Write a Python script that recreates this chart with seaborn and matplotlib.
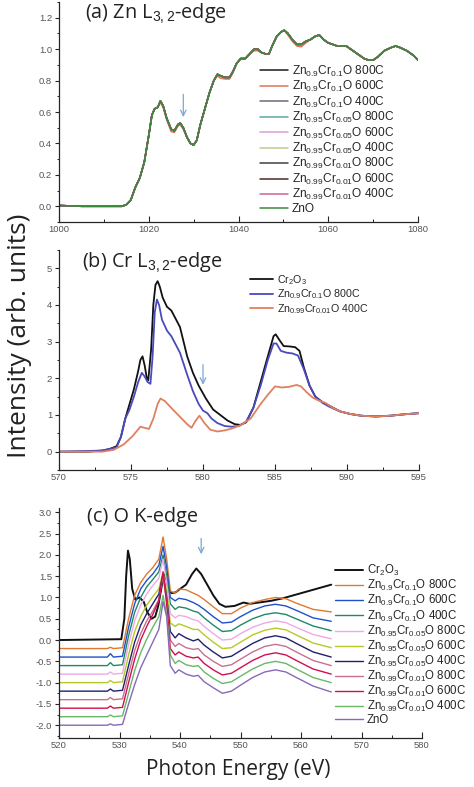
import matplotlib
matplotlib.use('Agg')
import matplotlib.pyplot as plt
from matplotlib.ticker import MultipleLocator
import seaborn as sns

# (a) Zn L3,2-edge
a_energy = [1000, 1005, 1010, 1014, 1015, 1016, 1017, 1018, 1019, 1020,
            1020.7, 1021.3, 1022, 1022.6, 1023.2, 1024, 1025, 1025.7, 1026.5, 1027,
            1027.7, 1028.5, 1029.3, 1030, 1030.7, 1031.5, 1032.5, 1033.5, 1034.5, 1035.3,
            1036, 1037, 1038, 1038.8, 1039.6, 1040.5, 1041.5, 1042.5, 1043.5, 1044.3,
            1045, 1046, 1046.8, 1047.5, 1048.5, 1049.5, 1050.2, 1051, 1052, 1053,
            1054, 1055, 1056, 1057, 1058, 1059, 1060, 1062, 1064, 1066,
            1068, 1069, 1070, 1071, 1072.5, 1074, 1075, 1076, 1077.5, 1079, 1080]
a_zno = [0.005, 0.0, 0.0, 0.0, 0.01, 0.04, 0.12, 0.18, 0.28, 0.45,
         0.58, 0.62, 0.63, 0.67, 0.64, 0.56, 0.49, 0.48, 0.52, 0.53,
         0.50, 0.44, 0.40, 0.39, 0.42, 0.52, 0.62, 0.72, 0.80, 0.84,
         0.83, 0.82, 0.82, 0.86, 0.91, 0.94, 0.94, 0.97, 1.00, 1.00,
         0.98, 0.97, 0.97, 1.02, 1.08, 1.11, 1.12, 1.10, 1.06, 1.03,
         1.03, 1.05, 1.06, 1.08, 1.09, 1.06, 1.04, 1.02, 1.02, 0.98,
         0.94, 0.93, 0.93, 0.95, 0.99, 1.01, 1.02, 1.01, 0.99, 0.96, 0.93]
a_red = [0.005, 0.0, 0.0, 0.0, 0.01, 0.04, 0.12, 0.18, 0.28, 0.45,
         0.58, 0.62, 0.63, 0.66, 0.63, 0.55, 0.475, 0.47, 0.51, 0.52,
         0.49, 0.44, 0.40, 0.39, 0.42, 0.52, 0.62, 0.72, 0.80, 0.83,
         0.815, 0.81, 0.81, 0.85, 0.91, 0.94, 0.94, 0.97, 0.99, 0.99,
         0.98, 0.97, 0.97, 1.02, 1.08, 1.11, 1.12, 1.09, 1.05, 1.02,
         1.015, 1.04, 1.06, 1.08, 1.09, 1.06, 1.04, 1.02, 1.02, 0.98,
         0.94, 0.93, 0.93, 0.95, 0.99, 1.01, 1.02, 1.01, 0.99, 0.96, 0.93]
a_labels = [r'Zn$_{0.9}$Cr$_{0.1}$O 800C', r'Zn$_{0.9}$Cr$_{0.1}$O 600C', r'Zn$_{0.9}$Cr$_{0.1}$O 400C',
            r'Zn$_{0.95}$Cr$_{0.05}$O 800C', r'Zn$_{0.95}$Cr$_{0.05}$O 600C', r'Zn$_{0.95}$Cr$_{0.05}$O 400C',
            r'Zn$_{0.99}$Cr$_{0.01}$O 800C', r'Zn$_{0.99}$Cr$_{0.01}$O 600C', r'Zn$_{0.99}$Cr$_{0.01}$O 400C',
            'ZnO']
a_values = [a_zno, a_red, a_zno, a_zno, a_zno, a_zno, a_zno, a_zno, a_zno, a_zno]
a_colors = ['#1a1a1a', '#e0735a', '#6b6b7b', '#5aaaa0', '#d8a0d8',
            '#c8c890', '#404040', '#502828', '#d060a0', '#3a8a3a']

# (b) Cr L3,2-edge
b_cr2o3_e = [570, 572, 573, 573.5, 574, 574.3, 574.6, 574.9, 575.2, 575.5,
             575.65, 575.8, 575.95, 576.1, 576.2, 576.4, 576.55, 576.7, 576.85, 577.0,
             577.2, 577.5, 577.8, 578.4, 578.9, 579.3, 579.7, 580.2, 580.7, 581.2,
             581.7, 582.2, 582.6, 583, 583.5, 584, 584.5, 584.9, 585.05, 585.3,
             585.6, 586, 586.4, 586.7, 587, 587.4, 587.8, 588.3, 588.8, 589.5,
             590.2, 591, 592, 593, 594, 595]
b_cr2o3_i = [0, 0, 0.03, 0.07, 0.15, 0.4, 0.9, 1.3, 1.7, 2.2,
             2.5, 2.6, 2.35, 2.0, 1.95, 2.8, 4.0, 4.55, 4.65, 4.5,
             4.2, 3.95, 3.85, 3.4, 2.6, 2.15, 1.8, 1.45, 1.15, 1.0,
             0.85, 0.75, 0.73, 0.8, 1.2, 1.9, 2.6, 3.15, 3.2, 3.05,
             2.88, 2.87, 2.85, 2.75, 2.3, 1.8, 1.5, 1.35, 1.25, 1.1,
             1.03, 0.98, 0.96, 0.98, 1.02, 1.05]
b_zn90_e = [570, 573, 574, 574.3, 574.6, 574.9, 575.2, 575.5, 575.75, 575.95,
            576.15, 576.35, 576.5, 576.65, 576.8, 576.95, 577.15, 577.5, 577.8, 578.4,
            578.9, 579.3, 579.7, 580.0, 580.3, 580.6, 581, 581.5, 582, 582.5,
            583, 583.5, 584, 584.5, 584.9, 585.1, 585.4, 585.8, 586.2, 586.6,
            587, 587.4, 587.8, 588.3, 588.8, 589.5, 590.2, 591, 592, 593, 594, 595]
b_zn90_i = [0, 0.03, 0.12, 0.4, 0.9, 1.15, 1.5, 1.9, 2.15, 2.05,
            1.9, 1.85, 2.6, 3.8, 4.15, 4.0, 3.6, 3.3, 3.15, 2.7,
            2.1, 1.65, 1.3, 1.12, 1.05, 0.9, 0.78, 0.7, 0.68, 0.7,
            0.82, 1.2, 1.8, 2.5, 2.95, 2.95, 2.75, 2.7, 2.68, 2.62,
            2.25, 1.8, 1.5, 1.33, 1.22, 1.1, 1.03, 0.98, 0.96, 0.98, 1.02, 1.05]
b_zn99_e = [570, 573, 573.8, 574.5, 575.1, 575.65, 575.95, 576.25, 576.55, 576.85,
            577.05, 577.35, 577.9, 578.4, 578.9, 579.2, 579.5, 579.75, 580.1, 580.5,
            581, 581.5, 582, 582.6, 583.3, 584, 584.5, 585, 585.5, 586,
            586.5, 586.8, 587.2, 587.6, 588, 588.5, 589, 589.5, 590.2, 591,
            592, 593, 594, 595]
b_zn99_i = [0, 0, 0.05, 0.2, 0.42, 0.68, 0.65, 0.62, 0.9, 1.3,
            1.45, 1.38, 1.15, 0.95, 0.75, 0.65, 0.85, 0.98, 0.78, 0.6,
            0.55, 0.58, 0.63, 0.72, 0.9, 1.3, 1.55, 1.78, 1.75, 1.77,
            1.82, 1.78, 1.62, 1.48, 1.4, 1.33, 1.2, 1.1, 1.03, 0.98,
            0.96, 0.98, 1.02, 1.05]
b_labels = [r'Cr$_2$O$_3$', r'Zn$_{0.9}$Cr$_{0.1}$O 800C', r'Zn$_{0.99}$Cr$_{0.01}$O 400C']
b_colors = ['#111111', '#4a4ac0', '#e08060']

# (c) O K-edge
c_cr2o3_e = [520, 530.3, 530.8, 531.1, 531.4, 531.7, 532.1, 532.6, 533.3, 534,
             534.6, 535.3, 535.9, 536.4, 536.9, 537.3, 537.7, 538.1, 538.6, 539.3,
             540, 541, 542, 542.7, 543.5, 544.5, 545.5, 546.5, 547.5, 549,
             550.5, 551.5, 553, 555, 557, 565]
c_cr2o3_i = [0, 0.02, 0.5, 1.5, 2.1, 1.9, 1.2, 0.95, 1.0, 0.9,
             0.65, 0.5, 0.55, 0.8, 1.2, 1.55, 1.45, 1.2, 1.1, 1.12,
             1.2, 1.3, 1.55, 1.68, 1.55, 1.3, 1.05, 0.85, 0.78, 0.8,
             0.88, 0.85, 0.88, 0.92, 0.98, 1.3]
c_energy = [520, 528, 528.5, 529, 530.5, 531.5, 532.5, 533.5, 534.5, 535.5,
            536.5, 537.2, 537.8, 538.4, 539.2, 539.8, 541, 542.2, 543, 544,
            545.5, 547, 548.5, 550, 552, 554, 555.8, 557.5, 559.5, 562, 565]
c_zn90_800 = [-0.2, -0.2, -0.17, -0.2, -0.18, 0.5, 1.05, 1.35, 1.55, 1.7,
              1.9, 2.42, 1.9, 1.15, 1.1, 1.2, 1.18, 1.1, 1.05, 0.95,
              0.78, 0.62, 0.62, 0.75, 0.88, 0.95, 1.0, 0.97, 0.85, 0.72, 0.66]
c_zn90_600 = [-0.4, -0.4, -0.32, -0.4, -0.38, 0.3, 0.85, 1.2, 1.4, 1.55,
              1.75, 2.2, 1.7, 1.0, 0.92, 0.98, 0.95, 0.88, 0.82, 0.72,
              0.55, 0.4, 0.42, 0.55, 0.7, 0.8, 0.84, 0.8, 0.68, 0.52, 0.44]
c_zn90_400 = [-0.6, -0.6, -0.53, -0.6, -0.58, 0.1, 0.65, 1.0, 1.25, 1.42,
              1.6, 2.0, 1.5, 0.85, 0.72, 0.78, 0.75, 0.68, 0.65, 0.52,
              0.35, 0.2, 0.22, 0.35, 0.5, 0.6, 0.64, 0.6, 0.48, 0.33, 0.22]
c_zn95_800 = [-0.8, -0.8, -0.75, -0.8, -0.78, -0.1, 0.45, 0.82, 1.08, 1.28,
              1.45, 1.9, 1.35, 0.62, 0.52, 0.58, 0.55, 0.48, 0.45, 0.32,
              0.15, 0.0, 0.02, 0.15, 0.3, 0.4, 0.45, 0.41, 0.28, 0.13, 0.03]
c_zn95_600 = [-1.0, -1.0, -0.95, -1.0, -0.98, -0.35, 0.2, 0.55, 0.82, 1.02,
              1.2, 1.6, 1.15, 0.4, 0.32, 0.38, 0.32, 0.25, 0.25, 0.12,
              -0.05, -0.2, -0.18, -0.05, 0.12, 0.23, 0.28, 0.24, 0.1, -0.07, -0.18]
c_zn95_400 = [-1.2, -1.2, -1.15, -1.2, -1.18, -0.6, -0.05, 0.35, 0.62, 0.85,
              1.08, 1.55, 1.0, 0.2, 0.05, 0.15, 0.05, -0.02, 0.02, -0.12,
              -0.28, -0.42, -0.38, -0.25, -0.08, 0.05, 0.1, 0.05, -0.1, -0.28, -0.4]
c_zn99_800 = [-1.4, -1.4, -1.35, -1.4, -1.38, -0.8, -0.25, 0.15, 0.45, 0.68,
              0.95, 1.5, 0.9, 0.0, -0.15, -0.08, -0.18, -0.22, -0.2, -0.35,
              -0.5, -0.62, -0.58, -0.45, -0.28, -0.15, -0.1, -0.15, -0.3, -0.48, -0.6]
c_zn99_600 = [-1.6, -1.6, -1.55, -1.6, -1.58, -1.0, -0.45, 0.0, 0.32, 0.6,
              0.92, 1.6, 0.85, -0.2, -0.35, -0.28, -0.38, -0.42, -0.4, -0.55,
              -0.7, -0.82, -0.78, -0.65, -0.48, -0.35, -0.3, -0.35, -0.5, -0.68, -0.8]
c_zn99_400 = [-1.8, -1.8, -1.76, -1.8, -1.78, -1.25, -0.72, -0.3, 0.02, 0.3,
              0.55, 1.05, 0.6, -0.35, -0.55, -0.48, -0.58, -0.62, -0.6, -0.75,
              -0.9, -1.02, -0.98, -0.85, -0.68, -0.55, -0.5, -0.55, -0.7, -0.88, -1.0]
c_zno = [-2.0, -2.0, -1.97, -2.0, -1.98, -1.5, -1.05, -0.65, -0.35, -0.05,
         0.25, 0.9, 0.55, -0.6, -0.78, -0.7, -0.8, -0.85, -0.83, -0.98,
         -1.12, -1.25, -1.2, -1.06, -0.88, -0.75, -0.7, -0.75, -0.9, -1.08, -1.22]
c_values = [c_zn90_800, c_zn90_600, c_zn90_400, c_zn95_800, c_zn95_600,
            c_zn95_400, c_zn99_800, c_zn99_600, c_zn99_400, c_zno]
c_colors = ['#e07830', '#2050c8', '#208868', '#f0a8e8', '#b8c828',
            '#202070', '#c87090', '#d01050', '#68b868', '#8868b8']

sns.set_style('ticks')
plt.rcParams['font.family'] = ['Liberation Sans', 'DejaVu Sans']
plt.rcParams['mathtext.fontset'] = 'custom'
plt.rcParams['mathtext.rm'] = 'Liberation Sans'
plt.rcParams['mathtext.it'] = 'Liberation Sans'

fig = plt.figure(figsize=(4.74, 7.87), dpi=100)
W, H = 474, 787
ax_a = fig.add_axes([59 / W, 1 - 222 / H, 359 / W, 220 / H])
ax_b = fig.add_axes([59 / W, 1 - 470 / H, 360 / W, 220 / H])
ax_c = fig.add_axes([59 / W, 1 - 738 / H, 363 / W, 230 / H])


def style_axis(ax, xlim, ylim, xmaj, ymaj):
    ax.set_xlim(*xlim)
    ax.set_ylim(*ylim)
    ax.xaxis.set_major_locator(MultipleLocator(xmaj))
    ax.xaxis.set_minor_locator(MultipleLocator(xmaj / 2))
    ax.yaxis.set_major_locator(MultipleLocator(ymaj))
    ax.yaxis.set_minor_locator(MultipleLocator(ymaj / 2))
    ax.tick_params(axis='x', which='major', direction='in', length=4, width=0.8)
    ax.tick_params(axis='x', which='minor', direction='in', length=2.5, width=0.7)
    ax.tick_params(axis='y', which='major', direction='out', length=3, width=0.8)
    ax.tick_params(axis='y', which='minor', direction='out', length=1.8, width=0.7)
    ax.tick_params(which='both', labelsize=6.8, labelcolor='#555555', pad=2)
    ax.set_xlabel('')
    ax.set_ylabel('')
    sns.despine(ax=ax)
    for sp in ax.spines.values():
        sp.set_linewidth(0.9)


# panel a
for lab, vals, col in zip(a_labels, a_values, a_colors):
    sns.lineplot(x=a_energy, y=vals, color=col, lw=1.1, label=lab, ax=ax_a)
style_axis(ax_a, (1000, 1080), (-0.1, 1.3), 20, 0.2)
ax_a.yaxis.set_major_formatter(plt.FormatStrFormatter('%.1f'))
ax_a.legend(loc='upper left', bbox_to_anchor=(0.56, 0.72), frameon=False,
            fontsize=8.6, handlelength=2.3, handletextpad=0.35, labelspacing=0.03,
            borderpad=0, borderaxespad=0)
ax_a.annotate('', xy=(1027.7, 0.55), xytext=(1027.7, 0.73),
              arrowprops=dict(arrowstyle='->', color='#7aa6d6', lw=0.9))

# panel b
for e, vals, lab, col in zip([b_cr2o3_e, b_zn90_e, b_zn99_e], [b_cr2o3_i, b_zn90_i, b_zn99_i],
                             b_labels, b_colors):
    sns.lineplot(x=e, y=vals, color=col, lw=1.3, label=lab, ax=ax_b)
style_axis(ax_b, (570, 595), (-0.5, 5.5), 5, 1)
ax_b.legend(loc='upper left', bbox_to_anchor=(0.53, 0.895), frameon=False,
            fontsize=7.7, handlelength=2.2, handletextpad=0.35, labelspacing=0.05,
            borderpad=0, borderaxespad=0)
ax_b.annotate('', xy=(580, 1.75), xytext=(580, 2.45),
              arrowprops=dict(arrowstyle='->', color='#7aa6d6', lw=0.9))

# panel c
sns.lineplot(x=c_cr2o3_e, y=c_cr2o3_i, color='#111111', lw=1.4, label=r'Cr$_2$O$_3$', ax=ax_c)
for lab, vals, col in zip(a_labels, c_values, c_colors):
    sns.lineplot(x=c_energy, y=vals, color=col, lw=1.0, label=lab, ax=ax_c)
style_axis(ax_c, (520, 580), (-2.3, 3.1), 10, 0.5)
ax_c.yaxis.set_major_formatter(plt.FormatStrFormatter('%.1f'))
ax_c.legend(loc='upper left', bbox_to_anchor=(0.76, 0.76), frameon=False,
            fontsize=8.3, handlelength=2.4, handletextpad=0.35, labelspacing=0.0,
            borderpad=0, borderaxespad=0)
ax_c.annotate('', xy=(543.5, 1.95), xytext=(543.5, 2.45),
              arrowprops=dict(arrowstyle='->', color='#7aa6d6', lw=0.9))

# panel titles and axis labels
title_font = dict(family=['Open Sans', 'DejaVu Sans'], fontsize=14.3, color='#222222', va='center')
fig.text(85 / W, 1 - 14 / H, r'(a) Zn L$_{3,2}$-edge', **title_font)
fig.text(82 / W, 1 - 263 / H, r'(b) Cr L$_{3,2}$-edge', **title_font)
fig.text(87 / W, 1 - 517 / H, '(c) O K-edge', **title_font)
fig.text(20 / W, 1 - 336 / H, 'Intensity (arb. units)', rotation=90, ha='center', va='center',
         family=['Open Sans', 'DejaVu Sans'], fontsize=19, color='#222222')
fig.text(238 / W, 1 - 770 / H, 'Photon Energy (eV)', ha='center', va='center',
         family=['Open Sans', 'DejaVu Sans'], fontsize=15, color='#222222')

fig.savefig('out.png', dpi=100)
